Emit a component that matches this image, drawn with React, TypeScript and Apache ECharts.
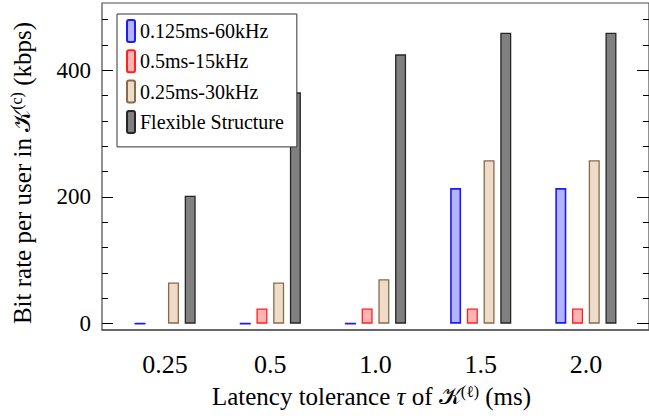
import React, { useEffect, useRef } from "react";
import * as echarts from "echarts";

const categories = ["0.25", "0.5", "1.0", "1.5", "2.0"];
const seriesNames = ["0.125ms-60kHz", "0.5ms-15kHz", "0.25ms-30kHz", "Flexible Structure"];
const blueValues: (number | null)[] = [0, 0, 0, 214, 214];
const redValues: (number | null)[] = [null, 24, 24, 24, 24];
const beigeValues: (number | null)[] = [65, 65, 70, 258, 258];
const darkValues: (number | null)[] = [202, 365, 425, 459, 459];
const yLabelTicks = [0, 200, 400];
const yMinorTicks = [0, 40, 80, 120, 160, 200, 240, 280, 320, 360, 400, 440, 480];

const FONT = "'Liberation Serif', 'Times New Roman', serif";
const CAL = "'DejaVu Serif', serif";

export default function App() {
  const ref = useRef<HTMLDivElement>(null);
  useEffect(() => {
    if (!ref.current) return;
    const chart = echarts.init(ref.current, undefined, { renderer: "svg" });
    const toData = (vals: (number | null)[]) =>
      vals.map((v, i) => (v === null ? [i, "-"] : [i, v]));
    const styles = [
      { color: "#B3B3FF", borderColor: "#1A1AFF", borderWidth: 1.6 },
      { color: "#FFB3B3", borderColor: "#FF2020", borderWidth: 1.3 },
      { color: "#EEDCC9", borderColor: "#8A6A48", borderWidth: 1.3 },
      { color: "#808080", borderColor: "#262626", borderWidth: 1.3 },
    ];
    const allVals = [blueValues, redValues, beigeValues, darkValues];
    const yBase = {
      type: "value",
      min: -10,
      max: 506,
      splitLine: { show: false },
      axisLine: { show: false, onZero: false },
    };
    chart.setOption({
      animation: false,
      textStyle: { fontFamily: FONT },
      grid: { left: 101, top: 3, width: 550, height: 327, show: true, borderColor: "#4a4a4a", borderWidth: 1.2 },
      legend: {
        orient: "vertical",
        left: 117,
        top: 14,
        z: 10,
        itemWidth: 8,
        itemHeight: 22,
        itemGap: 6.3,
        padding: [5, 13, 13, 9],
        borderColor: "#333",
        borderWidth: 1,
        backgroundColor: "#fff",
        textStyle: { fontFamily: FONT, fontSize: 20, color: "#000" },
        data: seriesNames,
      },
      xAxis: {
        type: "value",
        min: -0.6,
        max: 4.6,
        splitLine: { show: false },
        axisTick: { show: false },
        axisLine: { show: true, onZero: false, lineStyle: { color: "#555", width: 1.5 } },
        axisLabel: {
          customValues: [0, 1, 2, 3, 4],
          formatter: (v: number) => categories[Math.round(v)],
          fontSize: 26,
          lineHeight: 26,
          margin: 21,
          color: "#000",
          fontFamily: FONT,
        },
        name: "Latency tolerance {t|τ} of {k|𝒦}{s|(ℓ)} (ms)",
        nameLocation: "middle",
        nameGap: 53,
        nameTextStyle: {
          fontSize: 25,
          lineHeight: 26,
          color: "#000",
          fontFamily: FONT,
          padding: [0, 8, 0, 0],
          rich: {
            t: { fontSize: 25, fontStyle: "italic", fontFamily: FONT },
            k: { fontSize: 24, fontFamily: CAL },
            s: { fontSize: 16, verticalAlign: "top", padding: [0, 0, 12, 0], fontFamily: FONT },
          },
        },
      },
      yAxis: [
        {
          ...yBase,
          position: "left",
          axisTick: { show: true, inside: true, length: 6, customValues: yMinorTicks, lineStyle: { color: "#000" } },
          axisLabel: { customValues: yLabelTicks, fontSize: 23, margin: 11, color: "#000", fontFamily: FONT },
          name: "Bit rate per user in {k|𝒦}{s|(c)} (kbps)",
          nameLocation: "middle",
          nameGap: 66,
          nameTextStyle: {
            fontSize: 25,
            color: "#000",
            fontFamily: FONT,
            padding: [0, 13, 0, 0],
            rich: {
              k: { fontSize: 24, fontFamily: CAL },
              s: { fontSize: 16, verticalAlign: "top", padding: [0, 0, 12, 0], fontFamily: FONT },
            },
          },
        },
        {
          ...yBase,
          position: "left",
          axisLabel: { show: false },
          axisTick: { show: true, inside: true, length: 11, customValues: yLabelTicks, lineStyle: { color: "#000" } },
        },
        {
          ...yBase,
          position: "right",
          axisLabel: { show: false },
          axisTick: { show: true, inside: true, length: 6, customValues: yMinorTicks, lineStyle: { color: "#000" } },
        },
        {
          ...yBase,
          position: "right",
          axisLabel: { show: false },
          axisTick: { show: true, inside: true, length: 12, customValues: yLabelTicks, lineStyle: { color: "#000" } },
        },
      ],
      series: seriesNames.map((name, i) => ({
        name,
        type: "bar",
        barWidth: 11,
        barGap: "52%",
        data: toData(allVals[i]),
        itemStyle: { ...styles[i] },
      })),
    });
    return () => chart.dispose();
  }, []);
  return (
    <div
      ref={ref}
      style={{ position: "absolute", left: 0, top: 0, width: 649, height: 420, background: "#fff" }}
    />
  );
}
